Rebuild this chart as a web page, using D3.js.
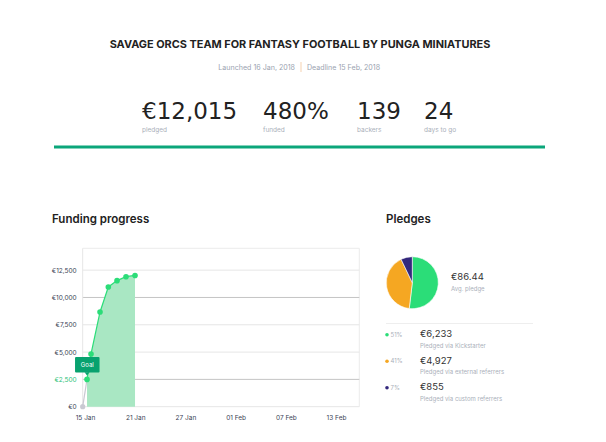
<!DOCTYPE html>
<html>
<head>
<meta charset="utf-8">
<title>Funding progress</title>
<script src="https://d3js.org/d3.v7.min.js"></script>
<style>
  body { margin: 0; background: #fff; }
  text { font-family: Inter, "Noto Sans", sans-serif; }
</style>
</head>
<body>
<script>
// campaign header
var title = "SAVAGE ORCS TEAM FOR FANTASY FOOTBALL BY PUNGA MINIATURES";
var launched = "Launched 16 Jan, 2018";
var deadline = "Deadline 15 Feb, 2018";
var statValues = ["€12,015", "480%", "139", "24"];
var statLabels = ["pledged", "funded", "backers", "days to go"];

// funding progress
var pointDates = ["2018-01-15T16:30", "2018-01-16T04:12", "2018-01-16T15:00", "2018-01-17T15:18",
                  "2018-01-18T13:43", "2018-01-19T13:15", "2018-01-20T13:32", "2018-01-21T13:51"];
var pointPledged = [0, 2500, 4830, 8670, 10960, 11540, 11900, 12015];
var goal = 2500;
var yTicks = [0, 2500, 5000, 7500, 10000, 12500];
var xTickDates = ["2018-01-15T22:48", "2018-01-21T14:24", "2018-01-27T06:00",
                  "2018-02-01T21:36", "2018-02-07T13:12", "2018-02-13T04:48"];
var xDomain = ["2018-01-15T16:30", "2018-02-15T19:40"];

// pledges
var avgPledge = "€86.44";
var pieNames = ["Pledged via Kickstarter", "Pledged via external referrers", "Pledged via custom referrers"];
var pieValues = [6233, 4927, 855];
var piePct = ["51%", "41%", "7%"];
var pieColors = ["#2bdd78", "#f5a722", "#33287c"];

var W = 606, H = 442;
var svg = d3.select("body").append("svg").attr("width", W).attr("height", H);
var parse = d3.timeParse("%Y-%m-%dT%H:%M");

//header
svg.append("text").attr("x", 300).attr("y", 48).attr("text-anchor", "middle")
  .attr("font-size", 10.9).attr("font-weight", 700).attr("fill", "#222").text(title);

svg.append("text").attr("x", 295).attr("y", 70).attr("text-anchor", "end")
  .attr("font-size", 7.1).attr("fill", "#9aa3b0").text(launched);
svg.append("rect").attr("x", 300.5).attr("y", 62).attr("width", 1).attr("height", 10).attr("fill", "#f6d2b0");
svg.append("text").attr("x", 307).attr("y", 70)
  .attr("font-size", 7.1).attr("fill", "#9aa3b0").text(deadline);

var statX = [142, 263, 357, 424];
statValues.forEach(function(v, i) {
  svg.append("text").attr("x", statX[i]).attr("y", 118.5)
    .attr("font-size", 23).style("font-family", "'DejaVu Sans', sans-serif").attr("fill", "#222").text(v);
  svg.append("text").attr("x", statX[i]).attr("y", 132)
    .attr("font-size", 6.5).attr("fill", "#aab0ba").text(statLabels[i]);
});

svg.append("rect").attr("x", 54).attr("y", 145.5).attr("width", 491).attr("height", 3).attr("fill", "#0ba67a");

//funding progress chart
svg.append("text").attr("x", 52).attr("y", 223)
  .attr("font-size", 11.5).attr("font-weight", 600).attr("fill", "#222").text("Funding progress");

var left = 82.7, right = 359.3, plotTop = 248.3, bottom = 406.7;
var x = d3.scaleTime().domain(xDomain.map(parse)).range([left, right]);
var y = d3.scaleLinear().domain([0, 14500]).range([bottom, plotTop]);

var g = svg.append("g");

// frame
g.append("line").attr("x1", left).attr("x2", right).attr("y1", plotTop).attr("y2", plotTop).attr("stroke", "#ececec");
g.append("line").attr("x1", right).attr("x2", right).attr("y1", plotTop).attr("y2", bottom).attr("stroke", "#ececec");

// grid
g.selectAll(".grid").data(yTicks).enter().append("line")
  .attr("x1", left).attr("x2", right)
  .attr("y1", function(d) { return y(d); }).attr("y2", function(d) { return y(d); })
  .attr("stroke", function(d) { return (d == 10000 || d == goal) ? "#c4c4c4" : "#e6e6e6"; })
  .attr("stroke-width", 1);

g.append("line").attr("x1", left).attr("x2", left).attr("y1", plotTop).attr("y2", bottom).attr("stroke", "#e6e6e6");

var yAxis = d3.axisLeft(y).tickValues(yTicks).tickSize(0).tickPadding(6)
  .tickFormat(function(d) { return "€" + d3.format(",")(d); });
var ya = g.append("g").attr("transform", "translate(" + left + ",0)").call(yAxis);
ya.select(".domain").remove();
ya.selectAll("text").attr("font-size", 6.5).attr("font-family", "Inter, sans-serif")
  .attr("fill", function(d) { return d == goal ? "#2bbf78" : "#3a3f55"; });

var xAxis = d3.axisBottom(x).tickValues(xTickDates.map(parse)).tickSize(0).tickPadding(9)
  .tickFormat(d3.timeFormat("%d %b"));
var xa = g.append("g").attr("transform", "translate(0," + bottom + ")").call(xAxis);
xa.select(".domain").remove();
xa.selectAll("text").attr("font-size", 6.5).attr("font-family", "Inter, sans-serif").attr("fill", "#3a3f55");

var pts = pointDates.map(function(d, i) { return { date: parse(d), value: pointPledged[i] }; });
var green = pts.slice(1);

var area = d3.area().x(function(d) { return x(d.date); }).y0(bottom).y1(function(d) { return y(d.value); });
g.append("path").datum(green).attr("d", area).attr("fill", "#a9e7c3");

var line = d3.line().x(function(d) { return x(d.date); }).y(function(d) { return y(d.value); });
g.append("path").datum(pts.slice(0, 2)).attr("d", line).attr("fill", "none").attr("stroke", "#c9c9d2").attr("stroke-width", 1.2);
g.append("path").datum(green).attr("d", line).attr("fill", "none").attr("stroke", "#2bdd78").attr("stroke-width", 1.2);

g.append("circle").attr("cx", x(pts[0].date)).attr("cy", y(pts[0].value)).attr("r", 2.6).attr("fill", "#c9c9d2");
g.selectAll(".pt").data(green).enter().append("circle")
  .attr("cx", function(d) { return x(d.date); }).attr("cy", function(d) { return y(d.value); })
  .attr("r", 2.8).attr("fill", "#2bdd78");

// goal flag
var gx = x(pts[1].date), gy = y(goal);
var flag = g.append("g");
flag.append("rect").attr("x", gx - 12).attr("y", gy - 22.5).attr("width", 24.5).attr("height", 15.5).attr("rx", 1).attr("fill", "#08a26f");
flag.append("path").attr("d", "M" + (gx - 2.5) + "," + (gy - 7.2) + "L" + (gx + 2.5) + "," + (gy - 7.2) + "L" + gx + "," + (gy - 4) + "Z").attr("fill", "#08a26f");
flag.append("text").attr("x", gx + 0.3).attr("y", gy - 12.5).attr("text-anchor", "middle")
  .attr("font-size", 6).attr("fill", "#fff").text("Goal");

//pledges
svg.append("text").attr("x", 386).attr("y", 223)
  .attr("font-size", 11.5).attr("font-weight", 600).attr("fill", "#222").text("Pledges");

var pie = d3.pie().sort(null).value(function(d) { return d; });
var arc = d3.arc().innerRadius(0).outerRadius(26);
svg.append("g").attr("transform", "translate(412.3,282.7)")
  .selectAll("path").data(pie(pieValues)).enter().append("path")
  .attr("d", arc).attr("fill", function(d, i) { return pieColors[i]; })
  .attr("stroke", "#fff").attr("stroke-width", 0.6);

svg.append("text").attr("x", 451).attr("y", 279.5).attr("font-size", 9.5).attr("fill", "#333").text(avgPledge);
svg.append("text").attr("x", 451).attr("y", 290.5).attr("font-size", 6).attr("fill", "#aab0ba").text("Avg. pledge");

svg.append("line").attr("x1", 386).attr("x2", 533).attr("y1", 323.5).attr("y2", 323.5).attr("stroke", "#eeeeee");

pieValues.forEach(function(v, i) {
  var ry = 334.7 + i * 26.5;
  svg.append("circle").attr("cx", 387).attr("cy", ry).attr("r", 1.8).attr("fill", pieColors[i]);
  svg.append("text").attr("x", 390.5).attr("y", ry + 2.2).attr("font-size", 6).attr("fill", "#aab0ba").text(piePct[i]);
  svg.append("text").attr("x", 420).attr("y", ry + 2.5).attr("font-size", 9.5).attr("fill", "#333")
    .text("€" + d3.format(",")(v));
  svg.append("text").attr("x", 420).attr("y", ry + 13).attr("font-size", 6).attr("fill", "#aab0ba").text(pieNames[i]);
});
</script>
</body>
</html>
